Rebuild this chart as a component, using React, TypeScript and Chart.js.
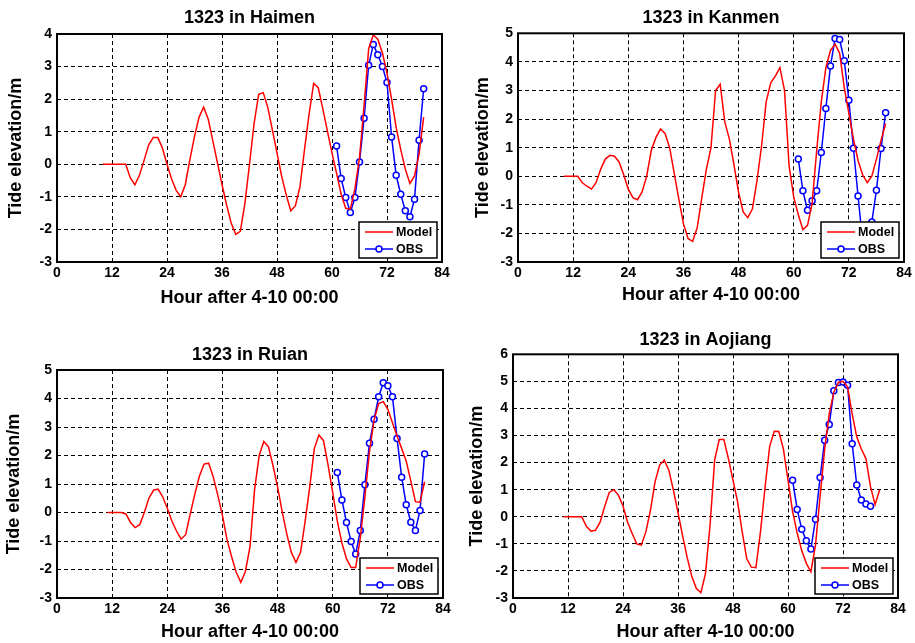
import React, { useEffect, useRef } from "react";
import { Chart, registerables } from "chart.js";

Chart.register(...registerables);

// ---------- data ----------
const MODEL_HOURS_FROM_10 = [10, 11, 12, 13, 14, 15, 16, 17, 18, 19, 20, 21, 22, 23, 24, 25, 26, 27, 28, 29, 30, 31, 32, 33, 34, 35, 36, 37, 38, 39, 40, 41, 42, 43, 44, 45, 46, 47, 48, 49, 50, 51, 52, 53, 54, 55, 56, 57, 58, 59, 60, 61, 62, 63, 64, 65, 66, 67, 68, 69, 70, 71, 72, 73, 74, 75, 76, 77, 78, 79, 80];
const MODEL_HOURS_FROM_11 = [11, 12, 13, 14, 15, 16, 17, 18, 19, 20, 21, 22, 23, 24, 25, 26, 27, 28, 29, 30, 31, 32, 33, 34, 35, 36, 37, 38, 39, 40, 41, 42, 43, 44, 45, 46, 47, 48, 49, 50, 51, 52, 53, 54, 55, 56, 57, 58, 59, 60, 61, 62, 63, 64, 65, 66, 67, 68, 69, 70, 71, 72, 73, 74, 75, 76, 77, 78, 79, 80];
const OBS_HOURS_TO_80 = [61, 62, 63, 64, 65, 66, 67, 68, 69, 70, 71, 72, 73, 74, 75, 76, 77, 78, 79, 80];
const OBS_HOURS_TO_78 = [61, 62, 63, 64, 65, 66, 67, 68, 69, 70, 71, 72, 73, 74, 75, 76, 77, 78];

const HAIMEN_MODEL = [0, 0, 0, 0, 0, 0, -0.42, -0.63, -0.33, 0.12, 0.6, 0.82, 0.82, 0.5, 0.0, -0.45, -0.8, -1.0, -0.62, 0.15, 0.85, 1.45, 1.75, 1.38, 0.72, 0.05, -0.62, -1.25, -1.8, -2.15, -2.06, -1.2, 0.0, 1.25, 2.15, 2.2, 1.74, 1.05, 0.35, -0.36, -0.93, -1.43, -1.28, -0.7, 0.45, 1.54, 2.48, 2.35, 1.7, 1.02, 0.35, -0.28, -0.92, -1.35, -1.38, -0.75, 0.2, 1.8, 3.55, 3.97, 3.84, 3.42, 2.8, 2.0, 1.13, 0.45, -0.15, -0.59, -0.36, 0.31, 1.45];
const HAIMEN_OBS = [0.56, -0.44, -1.02, -1.48, -1.02, 0.07, 1.41, 3.04, 3.68, 3.36, 3.0, 2.51, 0.84, -0.34, -0.92, -1.43, -1.61, -1.07, 0.74, 2.32];

const KANMEN_MODEL = [0, 0, 0, 0, -0.23, -0.35, -0.45, -0.22, 0.25, 0.6, 0.73, 0.7, 0.5, 0.05, -0.45, -0.75, -0.82, -0.55, 0.0, 0.9, 1.35, 1.65, 1.5, 1.0, 0.1, -0.8, -1.66, -2.18, -2.28, -1.8, -0.75, 0.25, 1.0, 3.0, 3.22, 1.9, 1.3, 0.4, -0.56, -1.25, -1.45, -1.15, -0.16, 1.05, 2.6, 3.27, 3.5, 3.8, 3.0, 0.35, -0.72, -1.35, -1.87, -1.72, -0.96, 0.9, 2.6, 3.8, 4.4, 4.62, 4.3, 3.1, 2.2, 1.3, 0.55, 0.05, -0.22, 0.0, 0.6, 1.25, 1.84];
const KANMEN_OBS = [0.6, -0.51, -1.19, -0.86, -0.51, 0.83, 2.37, 3.86, 4.82, 4.78, 4.04, 2.66, 0.98, -0.69, -2.3, -2.7, -1.6, -0.49, 0.97, 2.22];

const RUIAN_MODEL = [0, 0, 0, 0, -0.05, -0.35, -0.53, -0.43, 0.0, 0.5, 0.78, 0.82, 0.55, 0.15, -0.3, -0.65, -0.93, -0.78, -0.05, 0.65, 1.28, 1.7, 1.73, 1.25, 0.6, -0.1, -0.95, -1.55, -2.1, -2.45, -2.07, -1.2, 0.8, 2.0, 2.49, 2.31, 1.65, 0.9, 0.03, -0.75, -1.4, -1.75, -1.4, -0.3, 0.9, 2.25, 2.72, 2.52, 1.65, 0.7, -0.3, -1.07, -1.63, -1.93, -1.93, -0.9, 0.55, 2.14, 3.24, 3.82, 3.89, 3.62, 3.15, 2.68, 2.25, 1.8, 1.1, 0.38, 0.36, 1.08];
const RUIAN_OBS = [1.4, 0.44, -0.35, -1.02, -1.46, -0.63, 0.97, 2.43, 3.27, 4.06, 4.55, 4.45, 4.06, 2.6, 1.24, 0.27, -0.34, -0.63, 0.07, 2.05];

const AOJIANG_MODEL = [0, 0, 0, 0, 0, -0.35, -0.53, -0.5, -0.2, 0.38, 0.9, 1.0, 0.8, 0.4, -0.2, -0.62, -1.0, -1.05, -0.55, 0.25, 1.3, 1.91, 2.09, 1.72, 0.98, 0.15, -0.7, -1.5, -2.2, -2.65, -2.8, -2.09, -0.3, 2.1, 2.85, 2.85, 2.15, 1.35, 0.55, -0.55, -1.55, -1.86, -1.88, -0.55, 1.1, 2.6, 3.16, 3.15, 2.5, 1.35, 0.2, -0.6, -1.25, -1.72, -2.03, -1.05, 0.75, 2.5, 3.8, 4.6, 4.96, 5.0, 4.8, 3.8, 2.95, 2.5, 2.15, 1.11, 0.45, 1.0];
const AOJIANG_OBS = [1.35, 0.27, -0.46, -0.89, -1.19, -0.09, 1.45, 2.83, 3.41, 4.65, 4.96, 4.98, 4.86, 2.7, 1.17, 0.62, 0.47, 0.39];

const STATIONS = ["Haimen", "Kanmen", "Ruian", "Aojiang"];
const Y_MIN = [-3, -3, -3, -3];
const Y_MAX = [4, 5, 5, 6];
const X_MIN = 0;
const X_MAX = 84;
const X_STEP = 12;
const SERIES_NAMES = ["Model", "OBS"];

// ---------- layout (positions only) ----------
type Layout = {
  left: number; top: number; w: number; h: number;
  padTop: number; padRight: number; titleGap: number;
  yW: number; xH: number; yTitlePad: number; xTitlePad: number;
};
const LAYOUTS: Layout[] = [
  { left: 0, top: 0, w: 457, h: 315, padTop: 7, padRight: 15, titleGap: 5.4, yW: 57, xH: 53, yTitlePad: 5, xTitlePad: 6 },
  { left: 460, top: 0, w: 455, h: 315, padTop: 7, padRight: 11, titleGap: 4.7, yW: 58, xH: 53, yTitlePad: 12, xTitlePad: 9 },
  { left: 0, top: 315, w: 457, h: 328, padTop: 29.2, padRight: 14, titleGap: 4.2, yW: 57, xH: 45, yTitlePad: 3, xTitlePad: 0 },
  { left: 460, top: 315, w: 455, h: 328, padTop: 14.2, padRight: 17, titleGap: 3.5, yW: 53, xH: 45, yTitlePad: 6, xTitlePad: 0 },
];

const FONT = "'Liberation Sans', Arial, Helvetica, sans-serif";
const RED = "rgb(255,0,0)";
const BLUE = "rgb(0,0,255)";

const pairs = (xs: number[], ys: number[]) => ys.map((y, i) => ({ x: xs[i], y }));

const PANEL_DATA = [
  { model: pairs(MODEL_HOURS_FROM_10, HAIMEN_MODEL), obs: pairs(OBS_HOURS_TO_80, HAIMEN_OBS) },
  { model: pairs(MODEL_HOURS_FROM_10, KANMEN_MODEL), obs: pairs(OBS_HOURS_TO_80, KANMEN_OBS) },
  { model: pairs(MODEL_HOURS_FROM_11, RUIAN_MODEL), obs: pairs(OBS_HOURS_TO_80, RUIAN_OBS) },
  { model: pairs(MODEL_HOURS_FROM_11, AOJIANG_MODEL), obs: pairs(OBS_HOURS_TO_78, AOJIANG_OBS) },
];

const frameAndLegend = {
  id: "frameAndLegend",
  afterDatasetsDraw(chart: any) {
    const { ctx, chartArea: a } = chart;
    ctx.save();
    // legend box inside the axes (bottom-right)
    const w = 78, h = 36;
    const lx = a.right - 5 - w;
    const ly = a.bottom - 4 - h;
    ctx.fillStyle = "#fff";
    ctx.fillRect(lx, ly, w, h);
    ctx.strokeStyle = "#000";
    ctx.lineWidth = 1.5;
    ctx.strokeRect(lx, ly, w, h);
    const ds = chart.data.datasets;
    const rows = [ly + 10, ly + 27];
    ctx.font = `bold 12.5px ${FONT}`;
    ctx.textBaseline = "middle";
    ctx.textAlign = "left";
    ds.forEach((d: any, i: number) => {
      const y = rows[i];
      ctx.strokeStyle = d.borderColor;
      ctx.lineWidth = 1.5;
      ctx.beginPath();
      ctx.moveTo(lx + 6, y);
      ctx.lineTo(lx + 34, y);
      ctx.stroke();
      if (d.pointRadius > 0) {
        ctx.beginPath();
        ctx.arc(lx + 20, y, 3, 0, Math.PI * 2);
        ctx.fillStyle = "#fff";
        ctx.fill();
        ctx.stroke();
      }
      ctx.fillStyle = "#000";
      ctx.fillText(d.label, lx + 37, y + 0.5);
    });
    // axes box
    ctx.strokeStyle = "#000";
    ctx.lineWidth = 2;
    ctx.strokeRect(a.left, a.top, a.right - a.left, a.bottom - a.top);
    ctx.restore();
  },
};

function Panel({ idx }: { idx: number }) {
  const ref = useRef<HTMLCanvasElement | null>(null);
  const L = LAYOUTS[idx];
  useEffect(() => {
    if (!ref.current) return;
    const d = PANEL_DATA[idx];
    const chart = new Chart(ref.current, {
      type: "line",
      data: {
        datasets: [
          {
            label: SERIES_NAMES[0],
            data: d.model,
            borderColor: RED,
            backgroundColor: RED,
            borderWidth: 1.5,
            pointRadius: 0,
            tension: 0,
          },
          {
            label: SERIES_NAMES[1],
            data: d.obs,
            borderColor: BLUE,
            backgroundColor: "#fff",
            borderWidth: 1.5,
            pointRadius: 3,
            pointBorderWidth: 1.5,
            pointBackgroundColor: "#fff",
            pointBorderColor: BLUE,
            tension: 0,
          },
        ],
      },
      options: {
        animation: false,
        responsive: false,
        maintainAspectRatio: false,
        layout: { padding: { top: L.padTop, right: L.padRight, left: 0, bottom: 0 } },
        plugins: {
          legend: { display: false },
          tooltip: { enabled: false },
          title: {
            display: true,
            text: `1323 in ${STATIONS[idx]}`,
            color: "#000",
            fullSize: false,
            font: { family: FONT, size: 18, weight: "bold", lineHeight: 1.2 },
            padding: { top: 0, bottom: L.titleGap },
          },
        },
        scales: {
          x: {
            type: "linear",
            min: X_MIN,
            max: X_MAX,
            afterFit: (s: any) => { s.height = L.xH; },
            ticks: {
              stepSize: X_STEP,
              color: "#000",
              padding: 3,
              maxRotation: 0,
              font: { family: FONT, size: 14, weight: "bold" },
            },
            grid: { color: "#000", lineWidth: 1, drawTicks: false },
            border: { display: false, dash: [4, 3] },
            title: {
              display: true,
              text: "Hour after 4-10 00:00",
              color: "#000",
              font: { family: FONT, size: 18, weight: "bold", lineHeight: 1.2 },
              padding: { top: 0, bottom: L.xTitlePad },
            },
          },
          y: {
            type: "linear",
            min: Y_MIN[idx],
            max: Y_MAX[idx],
            afterFit: (s: any) => { s.width = L.yW; },
            ticks: {
              stepSize: 1,
              color: "#000",
              padding: 5,
              font: { family: FONT, size: 14, weight: "bold" },
            },
            grid: { color: "#000", lineWidth: 1, drawTicks: false },
            border: { display: false, dash: [4, 3] },
            title: {
              display: true,
              text: "Tide elevation/m",
              color: "#000",
              font: { family: FONT, size: 18, weight: "bold", lineHeight: 1.2 },
              padding: { top: L.yTitlePad, bottom: 0 },
            },
          },
        },
      },
      plugins: [frameAndLegend],
    } as any);
    return () => chart.destroy();
  }, [idx]);
  return (
    <canvas
      ref={ref}
      width={L.w}
      height={L.h}
      style={{ position: "absolute", left: L.left, top: L.top, width: L.w, height: L.h }}
    />
  );
}

export default function App() {
  return (
    <div style={{ position: "absolute", left: 0, top: 0, width: 915, height: 643, background: "#fff", overflow: "hidden" }}>
      {STATIONS.map((_, i) => (
        <Panel key={i} idx={i} />
      ))}
    </div>
  );
}
